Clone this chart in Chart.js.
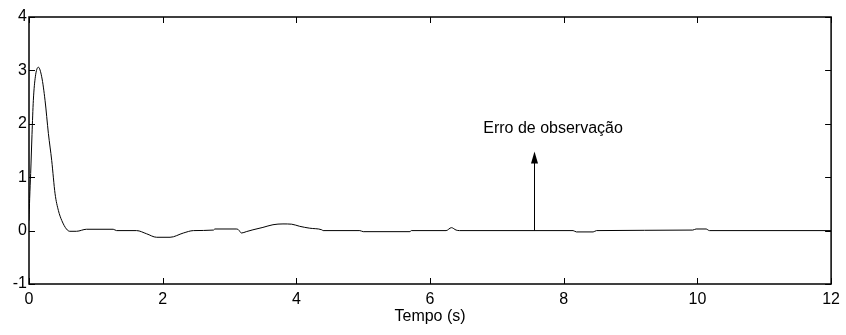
<!DOCTYPE html>
<html>
<head>
<meta charset="utf-8">
<script src="https://cdn.jsdelivr.net/npm/chart.js@4/dist/chart.umd.min.js"></script>
<style>
  html, body { margin: 0; padding: 0; background: #fff; }
  #wrap { width: 846px; height: 335px; }
</style>
</head>
<body>
<div id="wrap"><canvas id="c" width="846" height="335"></canvas></div>
<script>
// ---- data ----
const tempo = [0, 0.01, 0.025, 0.045, 0.065, 0.095, 0.14, 0.19, 0.24, 0.29, 0.34, 0.39, 0.44, 0.49, 0.56, 0.61, 0.71, 0.86, 1.26, 1.31, 1.61, 1.76, 1.91, 2.11, 2.31, 2.46, 2.76, 2.78, 3.1, 3.13, 3.18, 3.25, 3.35, 3.5, 3.65, 3.8, 3.93, 4.05, 4.2, 4.38, 4.4, 4.95, 5.0, 5.7, 5.72, 6.24, 6.32, 6.39, 6.44, 8.14, 8.19, 8.44, 8.49, 9.93, 9.98, 10.13, 10.18, 12];
const erro  = [0.19, 0.6, 1.07, 1.8, 2.44, 2.88, 3.06, 2.88, 2.44, 1.82, 1.31, 0.69, 0.375, 0.19, 0.03, -0.013, -0.013, 0.025, 0.025, 0, 0, -0.06, -0.125, -0.125, -0.045, 0, 0.01, 0.03, 0.03, 0.02, -0.045, -0.02, 0.015, 0.06, 0.11, 0.125, 0.12, 0.08, 0.045, 0.015, 0, 0, -0.02, -0.02, 0, 0, 0.055, 0.01, 0, 0, -0.025, -0.025, 0, 0.01, 0.03, 0.03, 0, 0];
const xTicks = [0, 2, 4, 6, 8, 10, 12];
const yTicks = [-1, 0, 1, 2, 3, 4];
const xTitle = 'Tempo (s)';
const noteText = 'Erro de observação';
const arrowX = 7.55;     // time where the arrow stands
const arrowTop = 1.48;   // value of the arrow tip
const noteX = 7.84;      // centre of the label
const noteY = 1.83;      // baseline of the label

const FONT = '"Liberation Sans", Arial, sans-serif';

const framePlugin = {
  id: 'frame',
  afterDraw(chart) {
    const {ctx, chartArea: a, scales: {x, y}} = chart;
    ctx.save();
    ctx.strokeStyle = '#000';
    ctx.lineWidth = 1;
    const tl = 6;
    ctx.beginPath();
    xTicks.forEach(v => {
      const px = Math.round(x.getPixelForValue(v)) + 0.5;
      ctx.moveTo(px, a.bottom); ctx.lineTo(px, a.bottom - tl);
      ctx.moveTo(px, a.top); ctx.lineTo(px, a.top + tl);
    });
    yTicks.forEach(v => {
      const py = Math.round(y.getPixelForValue(v)) + 0.5;
      ctx.moveTo(a.left, py); ctx.lineTo(a.left + tl, py);
      ctx.moveTo(a.right, py); ctx.lineTo(a.right - tl, py);
    });
    ctx.stroke();
    // frame
    ctx.lineWidth = 1.5;
    ctx.strokeRect(a.left, a.top, a.right - a.left, a.bottom - a.top);

    // arrow annotation
    const ax = Math.round(x.getPixelForValue(arrowX)) + 0.5;
    const y0 = y.getPixelForValue(0);
    const yt = y.getPixelForValue(arrowTop);
    ctx.lineWidth = 1;
    ctx.beginPath();
    ctx.moveTo(ax, y0); ctx.lineTo(ax, yt + 10);
    ctx.stroke();
    ctx.fillStyle = '#000';
    ctx.beginPath();
    ctx.moveTo(ax, yt);
    ctx.lineTo(ax - 3.5, yt + 12);
    ctx.lineTo(ax + 3.5, yt + 12);
    ctx.closePath();
    ctx.fill();

    ctx.font = '16px ' + FONT;
    ctx.textAlign = 'center';
    ctx.textBaseline = 'alphabetic';
    ctx.fillText(noteText, x.getPixelForValue(noteX), y.getPixelForValue(noteY));
    ctx.restore();
  }
};

new Chart(document.getElementById('c'), {
  type: 'line',
  data: {
    datasets: [{
      data: tempo.map((t, i) => ({x: t, y: erro[i]})),
      borderColor: '#000',
      borderWidth: 1,
      pointRadius: 0,
      fill: false,
      cubicInterpolationMode: 'monotone'
    }]
  },
  options: {
    responsive: false,
    animation: false,
    devicePixelRatio: 1,
    layout: { padding: { left: 0, right: 14, top: 17, bottom: 0 } },
    plugins: { legend: { display: false }, tooltip: { enabled: false } },
    scales: {
      x: {
        type: 'linear', min: 0, max: 12,
        grid: { display: false, drawTicks: false },
        border: { display: false },
        afterBuildTicks: s => { s.ticks = xTicks.map(v => ({value: v})); },
        afterFit: s => { s.height = 51; },
        ticks: { color: '#000', font: { family: FONT, size: 16 }, padding: 6, maxRotation: 0, autoSkip: false },
        title: { display: true, text: xTitle, color: '#000', font: { family: FONT, size: 16 }, padding: { top: 0, bottom: 8.6 } }
      },
      y: {
        type: 'linear', min: -1, max: 4,
        grid: { display: false, drawTicks: false },
        border: { display: false },
        afterBuildTicks: s => { s.ticks = yTicks.map(v => ({value: v})); },
        afterFit: s => { s.width = 29; },
        ticks: { color: '#000', font: { family: FONT, size: 16 }, padding: 2, autoSkip: false }
      }
    }
  },
  plugins: [framePlugin]
});
</script>
</body>
</html>
